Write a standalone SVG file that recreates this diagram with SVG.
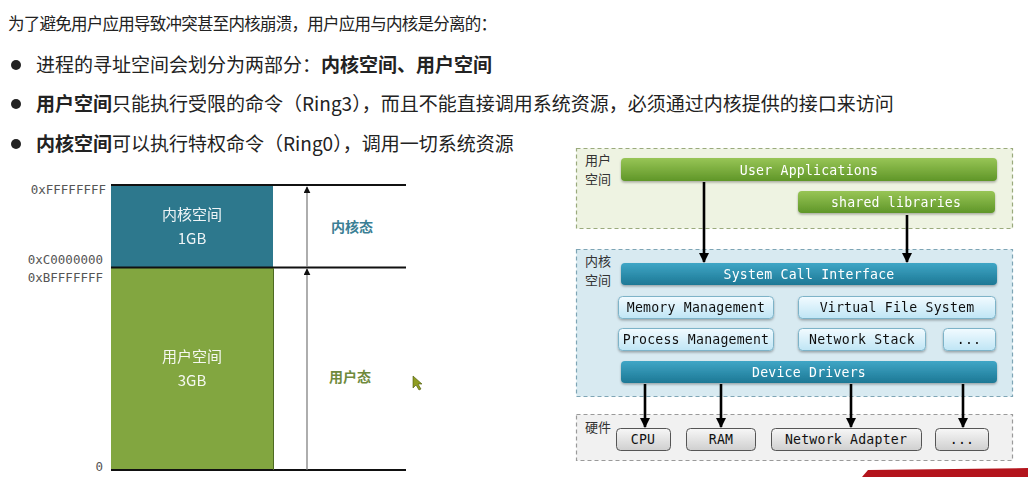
<svg xmlns="http://www.w3.org/2000/svg" width="1028" height="477" viewBox="0 0 1028 477">
  <defs>
    <style>
      .cjk { font-family: "Noto Sans CJK SC", "Noto Sans", sans-serif; }
      .lead { font-size: 16.5px; fill: #222; }
      .bullet { font-size: 19px; fill: #222; }
      .b { font-weight: bold; }
      .addr { font-family: "DejaVu Sans Mono", monospace; font-size: 12.5px; fill: #555; text-anchor: end; }
      .blk { font-family: "Noto Sans CJK SC", "Noto Sans", sans-serif; font-size: 15px; fill: #fff; text-anchor: middle; opacity: 0.92; }
      .mode { font-family: "Noto Sans CJK SC", sans-serif; font-size: 14px; font-weight: bold; text-anchor: middle; }
      .rule { stroke: #111; stroke-width: 2; }
      .span { stroke: #777; stroke-width: 1.2; }
      .zone-lbl { font-family: "Noto Sans CJK SC", sans-serif; font-size: 13px; fill: #333; }
      .mono { font-family: "DejaVu Sans Mono", monospace; font-size: 13.2px; text-anchor: middle; letter-spacing: 0.2px; }
      .light { fill: #fff; }
      .dark { fill: #111; }
      .conn { stroke: #000; stroke-width: 2.6; fill: none; marker-end: url(#arrow); }
      .dash { stroke-width: 1.2; stroke-dasharray: 4 3; }
    </style>
    <marker id="arrow" viewBox="0 0 10 10" refX="9" refY="5" markerWidth="4" markerHeight="4" orient="auto">
      <path d="M0,0 L10,5 L0,10 z" fill="#000"/>
    </marker>
    <marker id="up" viewBox="0 0 10 10" refX="9" refY="5" markerWidth="7" markerHeight="7" orient="auto" markerUnits="userSpaceOnUse">
      <path d="M0,0 L10,5 L0,10 z" fill="#111"/>
    </marker>
    <linearGradient id="gGreen" x1="0" y1="0" x2="0" y2="1">
      <stop offset="0" stop-color="#98c556"/>
      <stop offset="1" stop-color="#5f9628"/>
    </linearGradient>
    <linearGradient id="gTeal" x1="0" y1="0" x2="0" y2="1">
      <stop offset="0" stop-color="#3fa6c6"/>
      <stop offset="1" stop-color="#1d7895"/>
    </linearGradient>
    <linearGradient id="gIce" x1="0" y1="0" x2="0" y2="1">
      <stop offset="0" stop-color="#f2fbff"/>
      <stop offset="1" stop-color="#bfe5f5"/>
    </linearGradient>
    <linearGradient id="gGray" x1="0" y1="0" x2="0" y2="1">
      <stop offset="0" stop-color="#f7f7f7"/>
      <stop offset="1" stop-color="#cfcfcf"/>
    </linearGradient>
    <filter id="shadow" x="-5%" y="-30%" width="110%" height="170%">
      <feDropShadow dx="0" dy="1.5" stdDeviation="1.2" flood-color="#000" flood-opacity="0.3"/>
    </filter>
  </defs>

  <rect width="1028" height="477" fill="#fff"/>

  <!-- Heading and bullet points -->
  <g id="intro" class="cjk">
    <text class="lead" x="8" y="30" textLength="489">为了避免用户应用导致冲突甚至内核崩溃，用户应用与内核是分离的：</text>
    <circle cx="16" cy="65" r="5" fill="#222"/>
    <text class="bullet" x="36" y="72">进程的寻址空间会划分为两部分：<tspan class="b">内核空间、用户空间</tspan></text>
    <circle cx="16" cy="104" r="5" fill="#222"/>
    <text class="bullet" x="36" y="111"><tspan class="b">用户空间</tspan>只能执行受限的命令（Ring3），而且不能直接调用系统资源，必须通过内核提供的接口来访问</text>
    <circle cx="16" cy="144" r="5" fill="#222"/>
    <text class="bullet" x="36" y="151"><tspan class="b">内核空间</tspan>可以执行特权命令（Ring0），调用一切系统资源</text>
  </g>

  <!-- Address space split -->
  <g id="kernel-block">
    <rect x="111" y="185" width="162" height="82" fill="#2d788d"/>
    <text class="blk" x="192" y="220">内核空间</text>
    <text class="blk" x="192" y="244">1GB</text>
  </g>
  <g id="user-block">
    <rect x="111" y="268" width="162" height="202" fill="#82a640"/>
    <text class="blk" x="192" y="362">用户空间</text>
    <text class="blk" x="192" y="386">3GB</text>
  </g>
  <g id="addresses">
    <text class="addr" x="106" y="194">0xFFFFFFFF</text>
    <text class="addr" x="103" y="264">0xC0000000</text>
    <text class="addr" x="103" y="282">0xBFFFFFFF</text>
    <text class="addr" x="103" y="471">0</text>
  </g>
  <g id="boundaries">
    <line class="rule" x1="111" y1="185" x2="406" y2="185"/>
    <line class="rule" x1="111" y1="267.5" x2="406" y2="267.5"/>
    <line class="rule" x1="111" y1="470" x2="406" y2="470"/>
    <line x1="273.5" y1="268" x2="273.5" y2="470" stroke="#4d6a22" stroke-width="1"/>
    <line class="span" x1="307" y1="267" x2="307" y2="187" marker-end="url(#up)"/>
    <line class="span" x1="307" y1="470" x2="307" y2="269" marker-end="url(#up)"/>
  </g>
  <g id="modes">
    <text class="mode" x="352" y="232" fill="#3b7f95">内核态</text>
    <text class="mode" x="350" y="382" fill="#6f8a3c">用户态</text>
  </g>

  <!-- Layer zones -->
  <g id="user-zone">
    <rect x="576.5" y="148.5" width="436" height="80" fill="#eef3e2" stroke="#9aaa7c" class="dash"/>
    <text class="zone-lbl" x="585" y="165">用户</text>
    <text class="zone-lbl" x="585" y="184">空间</text>
  </g>
  <g id="kernel-zone">
    <rect x="576.5" y="249.5" width="436" height="147" fill="#d8eaf1" stroke="#7ea5b5" class="dash"/>
    <text class="zone-lbl" x="585" y="266">内核</text>
    <text class="zone-lbl" x="585" y="285">空间</text>
  </g>
  <g id="hardware-zone">
    <rect x="576.5" y="414.5" width="436" height="46" fill="#f1f1f1" stroke="#9a9a9a" class="dash"/>
    <text class="zone-lbl" x="585" y="432">硬件</text>
  </g>

  <!-- User space components -->
  <g id="user-applications" filter="url(#shadow)">
    <rect x="621" y="158" width="376" height="23" rx="4" fill="url(#gGreen)"/>
    <text class="mono light" x="809" y="175">User Applications</text>
  </g>
  <g id="shared-libraries" filter="url(#shadow)">
    <rect x="798" y="191" width="197" height="22" rx="4" fill="url(#gGreen)"/>
    <text class="mono light" x="896" y="207">shared libraries</text>
  </g>

  <!-- Kernel components -->
  <g id="system-call-interface" filter="url(#shadow)">
    <rect x="621" y="263" width="376" height="22" rx="4" fill="url(#gTeal)"/>
    <text class="mono light" x="809" y="279">System Call Interface</text>
  </g>
  <g id="memory-management" filter="url(#shadow)">
    <rect x="618.5" y="296.5" width="155" height="22" rx="4" fill="url(#gIce)" stroke="#7db3c8"/>
    <text class="mono dark" x="696" y="312">Memory Management</text>
  </g>
  <g id="virtual-file-system" filter="url(#shadow)">
    <rect x="798.5" y="296.5" width="197" height="22" rx="4" fill="url(#gIce)" stroke="#7db3c8"/>
    <text class="mono dark" x="897" y="312">Virtual File System</text>
  </g>
  <g id="process-management" filter="url(#shadow)">
    <rect x="618.5" y="328.5" width="155" height="22" rx="4" fill="url(#gIce)" stroke="#7db3c8"/>
    <text class="mono dark" x="696" y="344">Process Management</text>
  </g>
  <g id="network-stack" filter="url(#shadow)">
    <rect x="798.5" y="328.5" width="127" height="22" rx="4" fill="url(#gIce)" stroke="#7db3c8"/>
    <text class="mono dark" x="862" y="344">Network Stack</text>
  </g>
  <g id="kernel-more" filter="url(#shadow)">
    <rect x="943.5" y="328.5" width="52" height="22" rx="4" fill="url(#gIce)" stroke="#7db3c8"/>
    <text class="mono dark" x="969" y="344">...</text>
  </g>
  <g id="device-drivers" filter="url(#shadow)">
    <rect x="621" y="361" width="376" height="22" rx="4" fill="url(#gTeal)"/>
    <text class="mono light" x="809" y="377">Device Drivers</text>
  </g>

  <!-- Hardware -->
  <g id="cpu">
    <rect x="616.5" y="428.5" width="54" height="22" rx="4" fill="url(#gGray)" stroke="#555"/>
    <text class="mono dark" x="643" y="444">CPU</text>
  </g>
  <g id="ram">
    <rect x="686.5" y="428.5" width="69" height="22" rx="4" fill="url(#gGray)" stroke="#555"/>
    <text class="mono dark" x="721" y="444">RAM</text>
  </g>
  <g id="network-adapter">
    <rect x="771.5" y="428.5" width="150" height="22" rx="4" fill="url(#gGray)" stroke="#555"/>
    <text class="mono dark" x="846" y="444">Network Adapter</text>
  </g>
  <g id="hardware-more">
    <rect x="935.5" y="428.5" width="53" height="22" rx="4" fill="url(#gGray)" stroke="#555"/>
    <text class="mono dark" x="962" y="444">...</text>
  </g>

  <!-- Connectors -->
  <g id="connectors">
    <line class="conn" x1="704" y1="182" x2="704" y2="262"/>
    <line class="conn" x1="907" y1="215" x2="907" y2="262"/>
    <line class="conn" x1="645" y1="384" x2="645" y2="427"/>
    <line class="conn" x1="721" y1="384" x2="721" y2="427"/>
    <line class="conn" x1="851" y1="384" x2="851" y2="427"/>
    <line class="conn" x1="963" y1="384" x2="963" y2="427"/>
  </g>

  <!-- Pointer and lower-right banner edge -->
  <path d="M413,376 L413,388 L416,385 L419,390 L421,389 L418,384 L422,384 z" fill="#8f9c22" stroke="#4a5808" stroke-width="0.6"/>
  <path d="M868,470 L1028,468 L1028,477 L862,477 z" fill="#b3141c"/>
</svg>
